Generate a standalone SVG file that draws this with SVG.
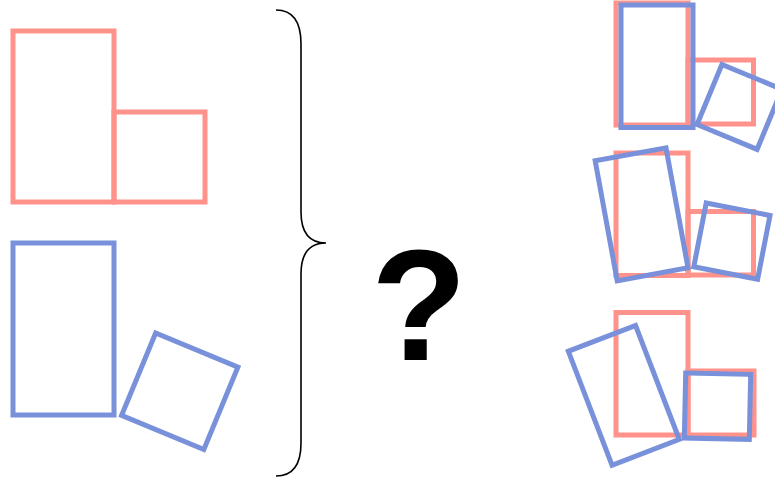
<svg xmlns="http://www.w3.org/2000/svg" width="775" height="478" viewBox="0 0 775 478">
<style>
.r{fill:none;stroke:#FF928A;stroke-width:5}
.b{fill:none;stroke:#7891DA;stroke-width:5}
.brace{fill:none;stroke:#000;stroke-width:1.6}
.q{font-family:"Liberation Sans",Arial,sans-serif;font-weight:bold;font-size:157px;fill:#000}
</style>
<rect width="775" height="478" fill="#fff"/>
<g id="left-red">
<rect class="r" x="13" y="31" width="101" height="171"/>
<rect class="r" x="114" y="112" width="91" height="90"/>
</g>
<g id="left-blue">
<rect class="b" x="13" y="243" width="101" height="172"/>
<rect class="b" x="-44.5" y="-44.5" width="89" height="89" transform="translate(179.75 391.25) rotate(22.5)"/>
</g>
<g id="brace">
<path class="brace" d="M276,10 C294,10 301,24 301,44 L301,212 C301,232 309,243 326,243 C309,243 301,254 301,274 L301,443 C301,463 294,476 276,476"/>
</g>
<g id="question">
<text class="q" x="419" y="360" text-anchor="middle">?</text>
</g>
<g id="option1">
<rect class="r" x="616" y="3" width="72" height="122"/>
<rect class="r" x="688" y="60" width="65.5" height="64"/>
<rect class="b" x="621" y="5" width="72" height="122.5"/>
<rect class="b" x="-32.5" y="-32.5" width="65" height="65" transform="translate(739.5 106.9) rotate(22.5)"/>
</g>
<g id="option2">
<rect class="r" x="616" y="153" width="72" height="122.5"/>
<rect class="r" x="688" y="211.5" width="65.5" height="63.5"/>
<rect class="b" x="-36" y="-61" width="72" height="122" transform="translate(641.6 214.3) rotate(-10.4)"/>
<rect class="b" x="-32.5" y="-32.5" width="65" height="65" transform="translate(731.9 241.1) rotate(11)"/>
</g>
<g id="option3">
<rect class="r" x="616" y="312.5" width="72" height="122.5"/>
<rect class="r" x="688" y="371" width="66" height="64"/>
<rect class="b" x="-36" y="-61" width="72" height="122" transform="translate(623.8 395.3) rotate(-21)"/>
<rect class="b" x="-32.5" y="-32.5" width="65" height="65" transform="translate(717.5 406.2) rotate(1.2)"/>
</g>
</svg>
